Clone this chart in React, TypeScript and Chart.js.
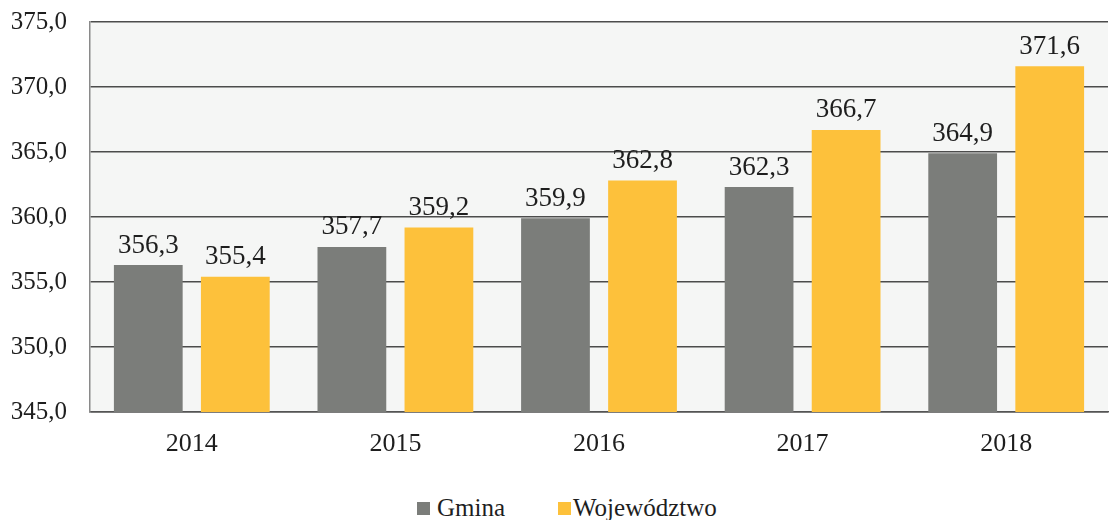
import React, { useEffect, useRef } from "react";
import { Chart, registerables } from "chart.js";

Chart.register(...registerables);

const categories = ["2014", "2015", "2016", "2017", "2018"];
const gminaValues = [356.3, 357.7, 359.9, 362.3, 364.9];
const wojValues = [355.4, 359.2, 362.8, 366.7, 371.6];
const seriesNames = ["Gmina", "Województwo"];

const GRAY = "#7b7d7a";
const YELLOW = "#fdc13b";
const FONT = "'Liberation Serif', 'DejaVu Serif', serif";

const fmt = (v: number) => v.toFixed(1).replace(".", ",");

const bgPlugin = {
  id: "plotBg",
  beforeDraw(chart: any) {
    const { ctx, chartArea } = chart;
    ctx.save();
    ctx.fillStyle = "#f5f6f5";
    ctx.fillRect(chartArea.left, chartArea.top, chartArea.right - chartArea.left, chartArea.bottom - chartArea.top);
    ctx.restore();
  },
};

const labelPlugin = {
  id: "barLabels",
  afterDatasetsDraw(chart: any) {
    const { ctx } = chart;
    ctx.save();
    ctx.font = `27px ${FONT}`;
    ctx.fillStyle = "#1e1e1e";
    ctx.textAlign = "center";
    ctx.textBaseline = "bottom";
    chart.data.datasets.forEach((ds: any, i: number) => {
      const meta = chart.getDatasetMeta(i);
      meta.data.forEach((bar: any, j: number) => {
        ctx.fillText(fmt(ds.data[j]), bar.x, bar.y - 6);
      });
    });
    ctx.restore();
  },
};

export default function App() {
  const ref = useRef<HTMLCanvasElement>(null);

  useEffect(() => {
    document.body.style.margin = "0";
    const chart = new Chart(ref.current!, {
      type: "bar",
      data: {
        labels: categories,
        datasets: [
          { label: seriesNames[0], data: gminaValues, backgroundColor: GRAY, barPercentage: 0.79, categoryPercentage: 0.855 },
          { label: seriesNames[1], data: wojValues, backgroundColor: YELLOW, barPercentage: 0.79, categoryPercentage: 0.855 },
        ],
      },
      options: {
        animation: false,
        responsive: true,
        maintainAspectRatio: false,
        layout: { padding: { top: 22, right: 1, bottom: 0, left: 0 } },
        plugins: { legend: { display: false }, tooltip: { enabled: false } },
        scales: {
          x: {
            grid: { display: false },
            border: { display: true, color: "#555", width: 1.5 },
            ticks: { color: "#1e1e1e", font: { family: FONT, size: 26 }, padding: 9 },
            afterFit: (s: any) => { s.height = 58; },
          },
          y: {
            min: 345,
            max: 375,
            grid: { color: "#4c4c4c", lineWidth: 1.6, drawTicks: true, tickLength: 23, tickColor: "rgba(0,0,0,0)" },
            border: { display: true, color: "#8a8a8a", width: 1.5 },
            ticks: {
              stepSize: 5,
              color: "#1e1e1e",
              font: { family: FONT, size: 25 },
              padding: 0,
              callback: (v: any) => fmt(Number(v)),
            },
            afterFit: (s: any) => { s.width = 90; },
          },
        },
      },
      plugins: [bgPlugin, labelPlugin],
    });
    return () => chart.destroy();
  }, []);

  const legendItem = (name: string, color: string, left: number, gap: number) => (
    <div style={{ position: "absolute", left, top: 494, height: 28, display: "flex", alignItems: "center" }}>
      <span style={{ display: "inline-block", width: 13, height: 13, background: color, marginRight: gap }} />
      <span style={{ fontFamily: FONT, fontSize: 25, color: "#1e1e1e", lineHeight: "28px" }}>{name}</span>
    </div>
  );

  return (
    <div style={{ position: "relative", width: 1109, height: 520, background: "#fff", overflow: "hidden" }}>
      <div style={{ position: "absolute", left: 0, top: 0, width: 1109, height: 470 }}>
        <canvas ref={ref} />
      </div>
      {legendItem(seriesNames[0], GRAY, 417, 7)}
      {legendItem(seriesNames[1], YELLOW, 558, 2)}
    </div>
  );
}
